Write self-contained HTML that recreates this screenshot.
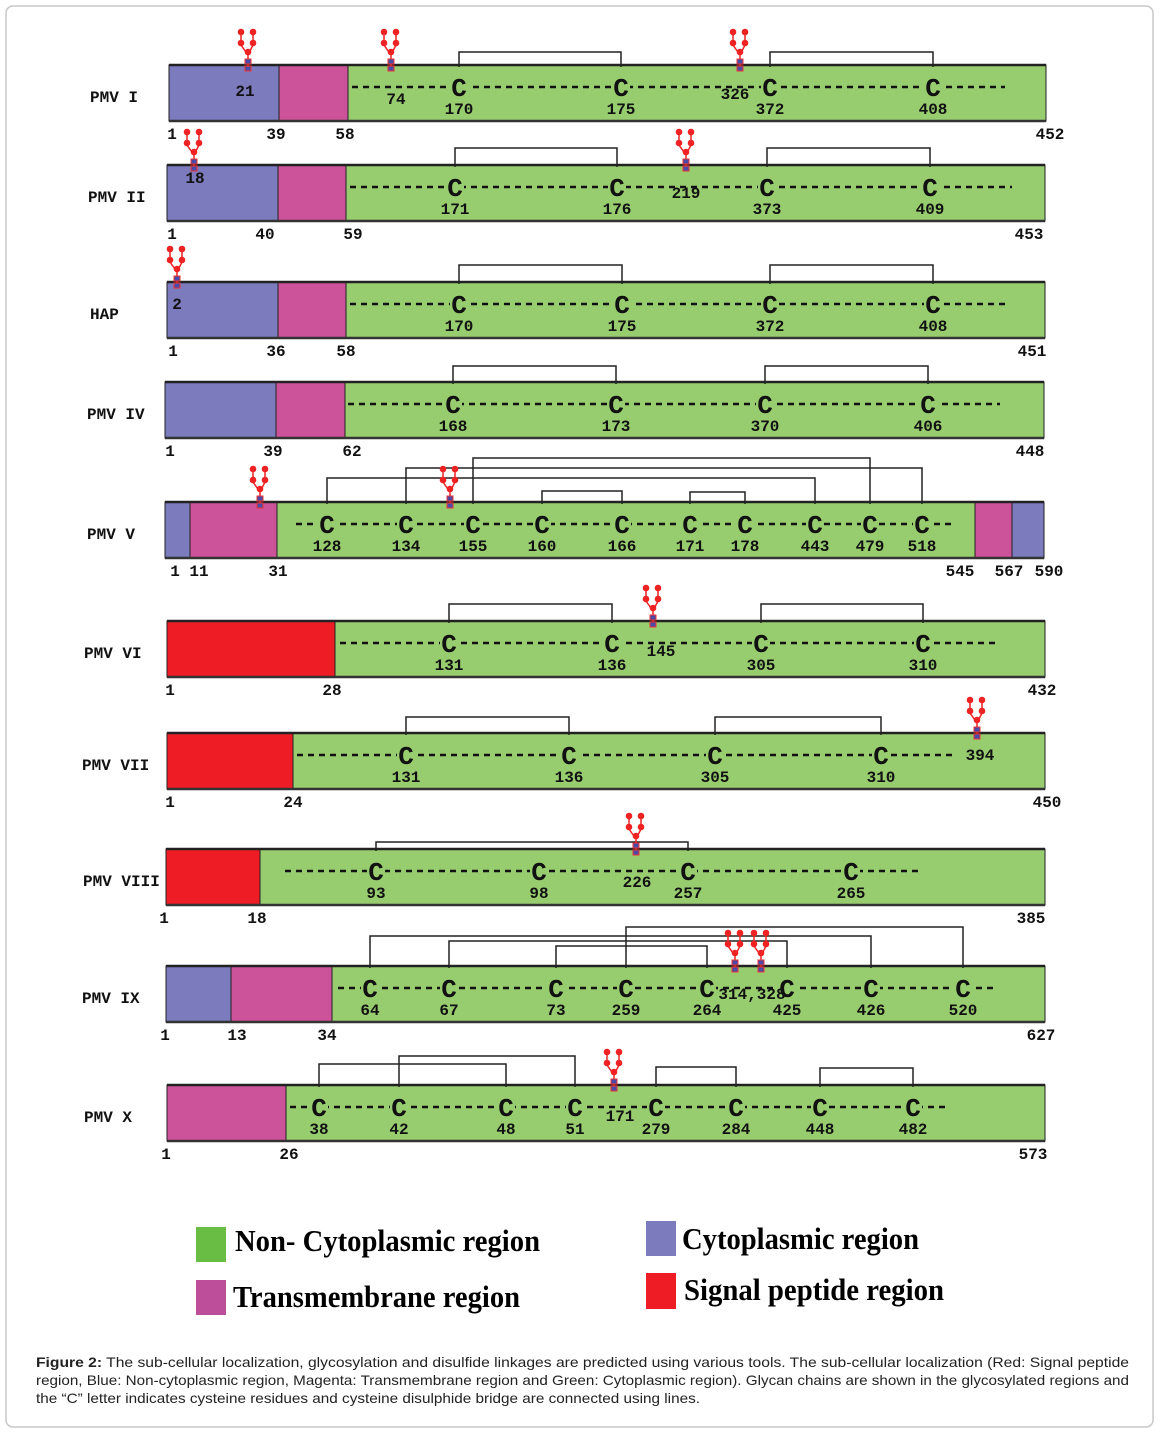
<!DOCTYPE html>
<html><head><meta charset="utf-8"><style>
html,body{margin:0;padding:0;background:#fff;}
svg{display:block;}
.mono{font-family:"Liberation Mono","DejaVu Sans Mono",monospace;font-weight:bold;fill:#111;}
</style></head><body>
<svg id="fig" width="1160" height="1434" viewBox="0 0 1160 1434" xmlns="http://www.w3.org/2000/svg">
<rect x="6" y="6" width="1147" height="1421" rx="7" fill="#fff" stroke="#c8c8c8" stroke-width="1.5"/>
<g id="rows"></g>
<g>
 <rect x="196" y="1227" width="30" height="35" fill="#69bd45"/>
 <text x="235" y="1251" font-family="Liberation Serif,serif" font-weight="bold" font-size="31" textLength="305" lengthAdjust="spacingAndGlyphs">Non- Cytoplasmic region</text>
 <rect x="646" y="1221" width="30" height="35" fill="#7b7bbd"/>
 <text x="682" y="1249" font-family="Liberation Serif,serif" font-weight="bold" font-size="31" textLength="237" lengthAdjust="spacingAndGlyphs">Cytoplasmic region</text>
 <rect x="196" y="1280" width="30" height="35" fill="#bd4f9a"/>
 <text x="233" y="1307" font-family="Liberation Serif,serif" font-weight="bold" font-size="31" textLength="287" lengthAdjust="spacingAndGlyphs">Transmembrane region</text>
 <rect x="646" y="1273" width="30" height="36" fill="#ee1c25"/>
 <text x="684" y="1300" font-family="Liberation Serif,serif" font-weight="bold" font-size="31" textLength="260" lengthAdjust="spacingAndGlyphs">Signal peptide region</text>
</g>
<g font-family="Liberation Sans,Arial,sans-serif" font-size="14" fill="#222">
 <text x="36" y="1367" textLength="1093" lengthAdjust="spacingAndGlyphs"><tspan font-weight="bold">Figure 2:</tspan> The sub-cellular localization, glycosylation and disulfide linkages are predicted using various tools. The sub-cellular localization (Red: Signal peptide</text>
 <text x="36" y="1385" textLength="1093" lengthAdjust="spacingAndGlyphs">region, Blue: Non-cytoplasmic region, Magenta: Transmembrane region and Green: Cytoplasmic region). Glycan chains are shown in the glycosylated regions and</text>
 <text x="36" y="1403" textLength="664" lengthAdjust="spacingAndGlyphs">the “C” letter indicates cysteine residues and cysteine disulphide bridge are connected using lines.</text>
</g>
</svg>
<script>
const B='#7b7bbd',M='#cc5299',G='#98cd6f',R='#ee1c25';
const rowNames=['PMV I','PMV II','HAP','PMV IV','PMV V','PMV VI','PMV VII','PMV VIII','PMV IX','PMV X'];
const rowTops=[65,165,282,382,502,621,733,849,966,1085];
const rowNameX=[90,88,90,87,87,84,82,83,82,84];
const rowSegments=[
 [[169,279,B],[279,348,M],[348,1046,G]],
 [[167,278,B],[278,346,M],[346,1045,G]],
 [[167,278,B],[278,346,M],[346,1045,G]],
 [[165,276,B],[276,345,M],[345,1044,G]],
 [[165,190,B],[190,277,M],[277,975,G],[975,1012,M],[1012,1044,B]],
 [[167,335,R],[335,1045,G]],
 [[167,293,R],[293,1045,G]],
 [[166,260,R],[260,1045,G]],
 [[166,231,B],[231,332,M],[332,1045,G]],
 [[167,286,M],[286,1045,G]]
];
const rowTicks=[
 [['1',172],['39',276],['58',345],['452',1050]],
 [['1',172],['40',265],['59',353],['453',1029]],
 [['1',173],['36',276],['58',346],['451',1032]],
 [['1',170],['39',273],['62',352],['448',1030]],
 [['1',175],['11',199],['31',278],['545',960],['567',1009],['590',1049]],
 [['1',170],['28',332],['432',1042]],
 [['1',170],['24',293],['450',1047]],
 [['1',164],['18',257],['385',1031]],
 [['1',165],['13',237],['34',327],['627',1041]],
 [['1',166],['26',289],['573',1033]]
];
const rowCysLabels=[
 ['170','175','372','408'],['171','176','373','409'],['170','175','372','408'],['168','173','370','406'],
 ['128','134','155','160','166','171','178','443','479','518'],
 ['131','136','305','310'],['131','136','305','310'],['93','98','257','265'],
 ['64','67','73','259','264','425','426','520'],
 ['38','42','48','51','279','284','448','482']
];
const rowCysX=[
 [459,621,770,933],[455,617,767,930],[459,622,770,933],[453,616,765,928],
 [327,406,473,542,622,690,745,815,870,922],
 [449,612,761,923],[406,569,715,881],[376,539,688,851],
 [370,449,556,626,707,787,871,963],
 [319,399,506,575,656,736,820,913]
];
const rowBridges=[
 [[0,1,52],[2,3,52]],[[0,1,148],[2,3,148]],[[0,1,265],[2,3,265]],[[0,1,366],[2,3,366]],
 [[0,7,478],[1,9,468],[2,8,458],[3,4,491],[5,6,492]],
 [[0,1,604],[2,3,604]],[[0,1,717],[2,3,717]],[[0,2,842]],
 [[0,6,936],[1,5,941],[2,4,946],[3,7,927]],
 [[0,2,1064],[1,3,1056],[4,5,1067],[6,7,1068]]
];
const rowDash=[[352,1005],[350,1012],[350,1005],[348,1000],[296,952],[340,995],[297,952],[285,922],[338,995],[290,945]];
const rowGlycans=[[248,391,740],[194,686],[177],[],[260,450],[653],[977],[636],[735,761],[614]];
const rowGlyLabels=[
 [['21',245,90],['74',396,98],['326',735,93]],
 [['18',195,177],['219',686,192]],
 [['2',177,303]],[],[],
 [['145',661,650]],[['394',980,754]],[['226',637,881]],
 [['314,328',752,993]],[['171',620,1115]]
];
const NS='http://www.w3.org/2000/svg';
const root=document.getElementById('rows');
function mk(tag,attrs,parent){const e=document.createElementNS(NS,tag);for(const k in attrs)e.setAttribute(k,attrs[k]);(parent||root).appendChild(e);return e;}
function txt(s,x,y,size,parent,anchor){const t=mk('text',{x:x,y:y,'font-size':size,'text-anchor':anchor||'middle','class':'mono'},parent);t.textContent=s;return t;}
const H=56;
rowNames.forEach((name,i)=>{
 const T=rowTops[i];
 const g=mk('g',{});
 
 
 rowSegments[i].forEach(s=>{
  const r=mk('rect',{x:s[0],y:T,width:s[1]-s[0],height:H,fill:s[2],stroke:'#222','stroke-width':1},g);
  
  
 });
 mk('line',{x1:rowSegments[i][0][0],x2:rowSegments[i][rowSegments[i].length-1][1],y1:T,y2:T,stroke:'#222','stroke-width':2.5},g);
 mk('line',{x1:rowSegments[i][0][0],x2:rowSegments[i][rowSegments[i].length-1][1],y1:T+H,y2:T+H,stroke:'#333','stroke-width':2.5},g);
 const nl=txt(name,rowNameX[i],T+37,16,g,'start');
 
 
 rowTicks[i].forEach(t=>{const e=txt(t[0],t[1],T+74,16,g);
  
  });
 mk('line',{x1:rowDash[i][0],x2:rowDash[i][1],y1:T+22,y2:T+22,stroke:'#111','stroke-width':2.5,'stroke-dasharray':'6,5'},g);
 rowBridges[i].forEach(b=>{
  const xa=rowCysX[i][b[0]],xb=rowCysX[i][b[1]];
  const p=mk('path',{d:`M${xa},${T+2}V${b[2]}H${xb}V${T+2}`,fill:'none',stroke:'#222','stroke-width':1.5},g);
  
  
 });
 rowCysX[i].forEach((x,j)=>{
  mk('rect',{x:x-9,y:T+9,width:18,height:26,fill:G},g);
  const c=txt('C',x,T+31,26,g);
  
  
  const n=txt(rowCysLabels[i][j],x,T+49,16,g);
  
  
 });
 rowGlycans[i].forEach(x=>{
  const gl=mk('g',{},g);
  
  
  mk('path',{d:`M${x},${T-10}L${x-7},${T-20}L${x-7},${T-32}M${x},${T-10}L${x+5},${T-20}L${x+5},${T-32}M${x},${T-10}V${T+5}`,stroke:'#ee2222','stroke-width':1.5,fill:'none'},gl);
  [[x,T-13],[x-7,T-22],[x+5,T-22],[x-7,T-33],[x+5,T-33]].forEach(p=>mk('circle',{cx:p[0],cy:p[1],r:3.3,fill:'#ee2222'},gl));
  mk('rect',{x:x-3,y:T-6,width:6,height:5,fill:'#4a4aa8',stroke:'#e33','stroke-width':1},gl);
  mk('rect',{x:x-3,y:T+1,width:6,height:5,fill:'#4a4aa8',stroke:'#e33','stroke-width':1},gl);
 });
 rowGlyLabels[i].forEach(l=>{const e=txt(l[0],l[1],l[2]+6,16,g);
  
  });
});
</script>
</body></html>
